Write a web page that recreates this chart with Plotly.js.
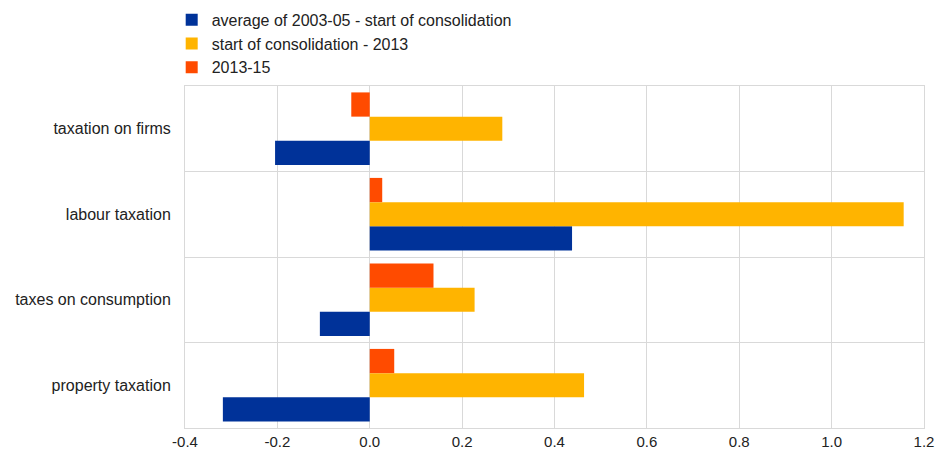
<!DOCTYPE html>
<html>
<head>
<meta charset="utf-8">
<script src="https://cdn.plot.ly/plotly-3.0.1.min.js"></script>
<style>
  html, body { margin: 0; padding: 0; background: #ffffff; }
  #chart { width: 936px; height: 455px; }
</style>
</head>
<body>
<div id="chart"></div>
<script>
// Tax categories, listed bottom to top on the chart
const categories = ['property taxation', 'taxes on consumption', 'labour taxation', 'taxation on firms'];

// Series names
const seriesNames = [
  'average of 2003-05 - start of consolidation',
  'start of consolidation - 2013',
  '2013-15'
];

// Values per series, same order as categories
const avgToConsolidation = [-0.318, -0.108, 0.438, -0.205];
const consolidationTo2013 = [0.464, 0.227, 1.156, 0.287];
const period2013to15 = [0.053, 0.138, 0.027, -0.040];

// X axis ticks (plain hyphen for negatives)
const xTickValues = [-0.4, -0.2, 0.0, 0.2, 0.4, 0.6, 0.8, 1.0, 1.2];
const xTickLabels = ['-0.4', '-0.2', '0.0', '0.2', '0.4', '0.6', '0.8', '1.0', '1.2'];

const colors = ['#003299', '#FFB400', '#FF4B00'];
const seriesValues = [avgToConsolidation, consolidationTo2013, period2013to15];

const traces = seriesValues.map((vals, i) => ({
  type: 'bar',
  orientation: 'h',
  name: seriesNames[i],
  y: categories,
  x: vals,
  marker: { color: colors[i], line: { width: 0 } },
  hoverinfo: 'x+y+name'
}));

const layout = {
  width: 936,
  height: 455,
  margin: { l: 185, r: 12, t: 86, b: 27, pad: 0 },
  paper_bgcolor: '#ffffff',
  plot_bgcolor: '#ffffff',
  font: { family: 'Liberation Sans, Arial, sans-serif', size: 16, color: '#222222' },
  barmode: 'group',
  bargap: 0.15,
  bargroupgap: 0,
  showlegend: true,
  legend: {
    x: -0.018, xref: 'paper', xanchor: 'left',
    y: 0.994, yref: 'container', yanchor: 'top',
    orientation: 'v',
    traceorder: 'normal',
    font: { size: 16, color: '#222222' },
    bgcolor: 'rgba(0,0,0,0)',
    itemclick: false
  },
  xaxis: {
    range: [-0.4, 1.2],
    tickmode: 'array',
    tickvals: xTickValues,
    ticktext: xTickLabels,
    showgrid: true,
    gridcolor: '#d9d9d9',
    gridwidth: 1,
    zeroline: false,
    showline: true,
    linecolor: '#d9d9d9',
    linewidth: 1,
    mirror: true,
    ticks: '',
    tickfont: { size: 15, color: '#222222' }
  },
  yaxis: {
    type: 'category',
    categoryorder: 'array',
    categoryarray: categories,
    tickson: 'boundaries',
    showgrid: true,
    gridcolor: '#d9d9d9',
    gridwidth: 1,
    showline: true,
    linecolor: '#d9d9d9',
    linewidth: 1,
    mirror: true,
    ticks: '',
    ticklabelstandoff: 10,
    tickfont: { size: 16, color: '#222222' }
  }
};

Plotly.newPlot('chart', traces, layout, { displayModeBar: false, staticPlot: true });
</script>
</body>
</html>
